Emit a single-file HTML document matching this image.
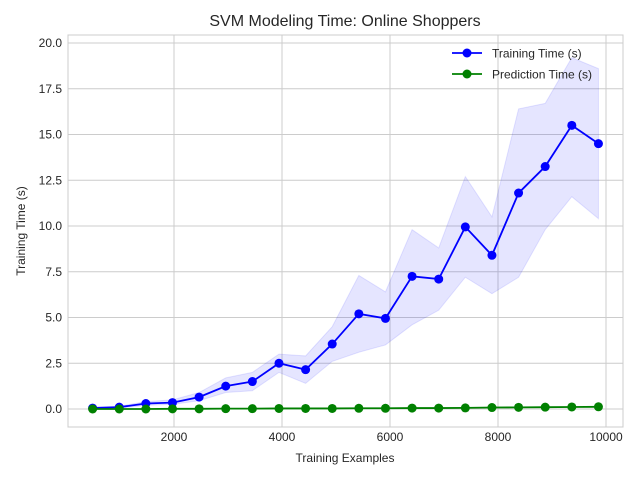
<!DOCTYPE html>
<html><head><meta charset="utf-8"><style>
body{margin:0;background:#fff;font-family:"Liberation Sans",sans-serif;}
svg text{font-family:"Liberation Sans",sans-serif;fill:#262626;}
</style></head><body>
<svg width="640" height="480">
<g id="g"></g>
</svg>
<script>
const xs=[493,986,1479,1972,2465,2958,3451,3944,4437,4930,5423,5916,6409,6902,7395,7888,8381,8874,9367,9860];
const trainMean=[0.05,0.1,0.3,0.35,0.65,1.25,1.5,2.5,2.15,3.55,5.2,4.95,7.25,7.1,9.95,8.4,11.8,13.25,15.5,14.5];
const trainUpper=[0.1,0.15,0.4,0.5,0.9,1.7,2.0,3.0,2.9,4.5,7.3,6.4,9.8,8.8,12.7,10.5,16.4,16.7,19.2,18.6];
const trainLower=[0.0,0.05,0.2,0.25,0.45,0.9,1.0,2.0,1.4,2.6,3.1,3.5,4.6,5.4,7.2,6.3,7.2,9.8,11.6,10.4];
const predMean=[0.0,0.0,0.0,0.01,0.01,0.02,0.02,0.03,0.03,0.03,0.04,0.04,0.05,0.05,0.06,0.08,0.09,0.1,0.11,0.12];
const xTicks=[2000,4000,6000,8000,10000];
const yTicks=[0,2.5,5,7.5,10,12.5,15,17.5,20];
const L=68,R=623,T=35,B=427;
const X=v=>66+v*0.054, Y=v=>409-v*18.3;
const g=document.getElementById('g');const NS='http://www.w3.org/2000/svg';
function mk(t,a,txt){const e=document.createElementNS(NS,t);for(const k in a)e.setAttribute(k,a[k]);if(txt!==undefined)e.textContent=txt;g.appendChild(e);return e;}
xTicks.forEach(t=>{const e=mk('line',{x1:X(t),x2:X(t),y1:T,y2:B,stroke:'#ccc','stroke-width':1});


const l=mk('text',{x:X(t),y:B+14,'text-anchor':'middle','font-size':12},String(t));

});
yTicks.forEach(t=>{const e=mk('line',{x1:L,x2:R,y1:Y(t),y2:Y(t),stroke:'#ccc','stroke-width':1});


const l=mk('text',{x:L-6,y:Y(t)+4,'text-anchor':'end','font-size':12},t.toFixed(1));

});
const fr=mk('rect',{x:L,y:T,width:R-L,height:B-T,fill:'none',stroke:'#ccc','stroke-width':1});


let pts=xs.map((x,i)=>X(x)+','+Y(trainUpper[i]));
for(let i=xs.length-1;i>=0;i--)pts.push(X(xs[i])+','+Y(trainLower[i]));
const band=mk('polygon',{points:pts.join(' '),fill:'blue','fill-opacity':0.1,stroke:'blue','stroke-opacity':0.1});


function series(vals,col,name){
const p=mk('polyline',{points:xs.map((x,i)=>X(x)+','+Y(vals[i])).join(' '),fill:'none',stroke:col,'stroke-width':1.8});


xs.forEach((x,i)=>{const c=mk('circle',{cx:X(x),cy:Y(vals[i]),r:4.5,fill:col});

});}
series(trainMean,'blue','training-time');
series(predMean,'green','prediction-time');
[['Training Time (s)','blue',53],['Prediction Time (s)','green',74]].forEach(([t,c,y])=>{
const ln=mk('line',{x1:452,x2:482,y1:y,y2:y,stroke:c,'stroke-width':1.8});


const ci=mk('circle',{cx:467,cy:y,r:4.5,fill:c});


const tx=mk('text',{x:492,y:y+4.5,'font-size':12},t);

});
const ti=mk('text',{x:345,y:26,'text-anchor':'middle','font-size':16},'SVM Modeling Time: Online Shoppers');


const xt=mk('text',{x:345,y:462,'text-anchor':'middle','font-size':12},'Training Examples');


const yt=mk('text',{x:0,y:0,'text-anchor':'middle','font-size':12,transform:'translate(25,231) rotate(-90)'},'Training Time (s)');


</script>
</body></html>
